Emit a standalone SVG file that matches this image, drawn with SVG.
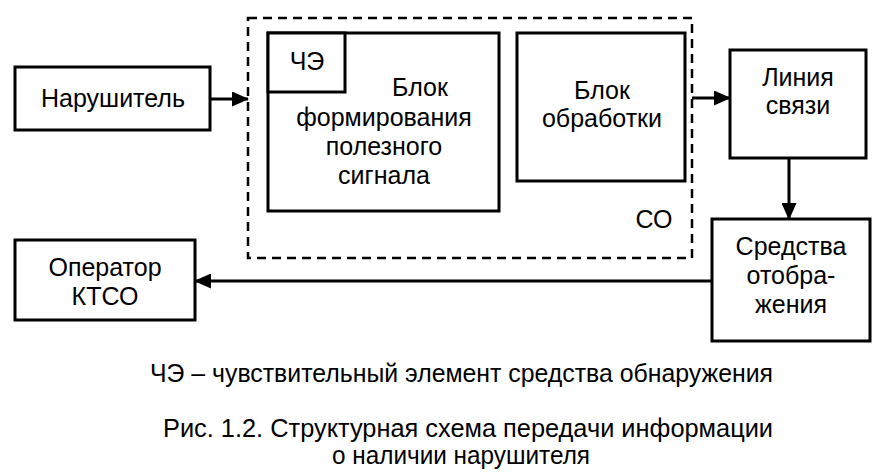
<svg xmlns="http://www.w3.org/2000/svg" width="887" height="475" viewBox="0 0 887 475">
<defs>
<style>
.box{fill:#fff;stroke:#000;stroke-width:3}
.dash{fill:none;stroke:#000;stroke-width:2.5;stroke-dasharray:9,6}
.t{font-family:"Liberation Sans",Arial,sans-serif;font-size:25px;fill:#000;text-anchor:middle}
.c{font-family:"Liberation Sans",Arial,sans-serif;font-size:25px;fill:#000;text-anchor:start}
.ln{stroke:#000;stroke-width:3;fill:none}
</style>
<marker id="ah" markerWidth="17" markerHeight="15" refX="16" refY="7.5" orient="auto" markerUnits="userSpaceOnUse">
<path d="M0,0 L17,7.5 L0,15 Z" fill="#000"/>
</marker>
</defs>
<rect width="887" height="475" fill="#fff"/>
<g id="co">
<rect class="dash" x="248" y="18" width="444" height="240"/>
<text class="t" x="654" y="228">СО</text>
</g>
<g id="narushitel">
<rect class="box" x="15" y="67" width="195" height="63"/>
<text class="t" x="113" y="107">Нарушитель</text>
</g>
<g id="blok-form">
<rect class="box" x="268" y="33" width="231" height="178"/>
<text class="t" x="420" y="96">Блок</text>
<text class="t" x="384" y="126">формирования</text>
<text class="t" x="384" y="155">полезного</text>
<text class="t" x="384" y="184">сигнала</text>
</g>
<g id="che">
<rect class="box" x="268" y="33" width="77" height="59"/>
<text class="t" x="307" y="70">ЧЭ</text>
</g>
<g id="blok-obr">
<rect class="box" x="517" y="33" width="168" height="148"/>
<text class="t" x="602" y="99">Блок</text>
<text class="t" x="602" y="127">обработки</text>
</g>
<g id="liniya">
<rect class="box" x="730" y="50" width="136" height="108"/>
<text class="t" x="798" y="86">Линия</text>
<text class="t" x="798" y="114">связи</text>
</g>
<g id="sredstva">
<rect class="box" x="712" y="219" width="158" height="122"/>
<text class="t" x="791" y="255">Средства</text>
<text class="t" x="791" y="284">отобра-</text>
<text class="t" x="791" y="313">жения</text>
</g>
<g id="operator">
<rect class="box" x="15" y="240" width="180" height="80"/>
<text class="t" x="105" y="276">Оператор</text>
<text class="t" x="105" y="305">КТСО</text>
</g>
<g id="connectors">
<line class="ln" x1="210" y1="99" x2="248" y2="99" marker-end="url(#ah)"/>
<line class="ln" x1="692" y1="98" x2="730" y2="98" marker-end="url(#ah)"/>
<line class="ln" x1="789" y1="158" x2="789" y2="219" marker-end="url(#ah)"/>
<line class="ln" x1="712" y1="281" x2="195" y2="281" marker-end="url(#ah)"/>
</g>
<g id="captions">
<text class="c" x="150" y="382" textLength="623" lengthAdjust="spacingAndGlyphs">ЧЭ – чувствительный элемент средства обнаружения</text>
<text class="c" x="163" y="437" textLength="610" lengthAdjust="spacingAndGlyphs">Рис. 1.2. Структурная схема передачи информации</text>
<text class="c" x="332" y="464" textLength="258" lengthAdjust="spacingAndGlyphs">о наличии нарушителя</text>
</g>
</svg>
